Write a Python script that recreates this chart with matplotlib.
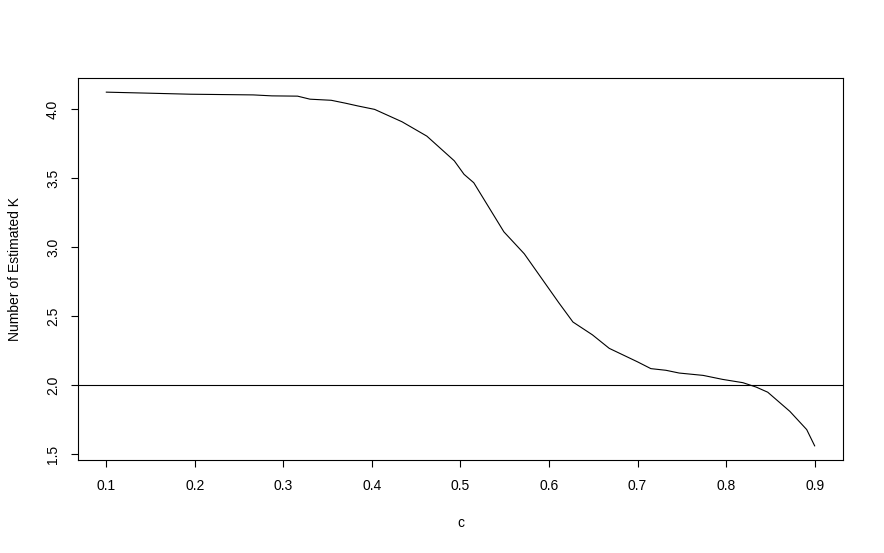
import matplotlib
matplotlib.use("Agg")
import matplotlib.pyplot as plt

plt.rcParams['font.family'] = ['Liberation Sans', 'DejaVu Sans']

c_vals = [0.100, 0.145, 0.195, 0.266, 0.287, 0.316, 0.330, 0.354, 0.370, 0.384,
          0.403, 0.434, 0.462, 0.493, 0.504, 0.515, 0.549, 0.572, 0.611, 0.627,
          0.649, 0.668, 0.700, 0.715, 0.732, 0.747, 0.774, 0.796, 0.819, 0.834,
          0.847, 0.872, 0.891, 0.900]
k_vals = [4.125, 4.118, 4.110, 4.105, 4.098, 4.096, 4.074, 4.066, 4.045, 4.025,
          4.000, 3.910, 3.806, 3.627, 3.529, 3.468, 3.112, 2.953, 2.598, 2.458,
          2.365, 2.267, 2.169, 2.120, 2.108, 2.088, 2.071, 2.042, 2.018, 1.986,
          1.949, 1.810, 1.678, 1.560]
hline_y = 2.0
x_ticks = [0.1, 0.2, 0.3, 0.4, 0.5, 0.6, 0.7, 0.8, 0.9]
y_ticks = [1.5, 2.0, 2.5, 3.0, 3.5, 4.0]

fig = plt.figure(figsize=(8.84, 5.53), dpi=100)
ax = fig.add_axes([78/884, 1-460/553, (843-78)/884, (460-78)/553])
ax.plot(c_vals, k_vals, color='black', lw=0.8)
ax.axhline(hline_y, color='black', lw=0.8)

xr = max(c_vals) - min(c_vals)
yr = max(k_vals) - min(k_vals)
ax.set_xlim(min(c_vals) - 0.04*xr, max(c_vals) + 0.04*xr)
ax.set_ylim(min(k_vals) - 0.04*yr, max(k_vals) + 0.04*yr)

ax.set_xticks(x_ticks)
ax.set_xticklabels([f"{v:.1f}" for v in x_ticks])
ax.set_yticks(y_ticks)
ax.set_yticklabels([f"{v:.1f}" for v in y_ticks])
ax.tick_params(axis='both', direction='out', length=5, width=0.8, labelsize=10, colors='black')
ax.tick_params(axis='x', pad=9)
ax.tick_params(axis='y', pad=8)
for lab in ax.get_yticklabels():
    lab.set_rotation(90)
    lab.set_va('center')
for s in ax.spines.values():
    s.set_linewidth(0.8)

ax.set_xlabel('c', fontsize=10, labelpad=16)
ax.set_ylabel('Number of Estimated K', fontsize=10, labelpad=17)

fig.savefig('out.png', dpi=100)
